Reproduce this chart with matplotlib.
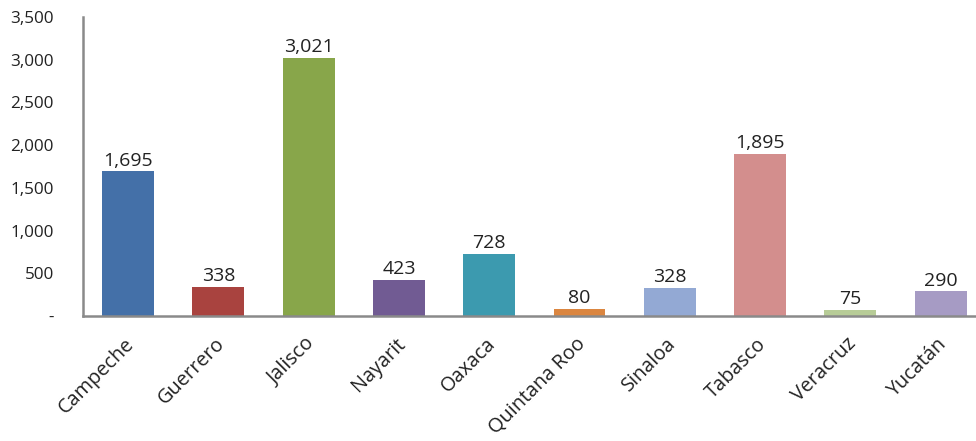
import matplotlib.pyplot as plt
import matplotlib.transforms as mtransforms
from matplotlib.ticker import FuncFormatter

estados = ['Campeche', 'Guerrero', 'Jalisco', 'Nayarit', 'Oaxaca',
           'Quintana Roo', 'Sinaloa', 'Tabasco', 'Veracruz', 'Yucatán']
valores = [1695, 338, 3021, 423, 728, 80, 328, 1895, 75, 290]
colores = ['#4470A8', '#A9433F', '#88A64A', '#715B93', '#3C9AAF',
           '#DB8640', '#93A9D4', '#D38E8D', '#B7CC97', '#A69BC4']

plt.rcParams['font.family'] = ['Open Sans', 'DejaVu Sans']

fig = plt.figure(figsize=(9.76, 4.41), dpi=100)
ax = fig.add_axes([0.085, 0.2834, 0.925, 0.678])

x = range(len(estados))
bars = ax.bar(x, valores, width=0.575, color=colores)

for b, v in zip(bars, valores):
    ax.text(b.get_x() + b.get_width() / 2, v + 20, f'{v:,}',
            ha='center', va='bottom', fontsize=14, color='#222222')

ax.set_xlim(-0.5, len(estados) - 0.5)
ax.set_ylim(0, 3500)
ax.set_yticks(range(0, 3501, 500))
ax.yaxis.set_major_formatter(FuncFormatter(lambda v, p: '-' if v == 0 else f'{int(v):,}'))
ax.set_xticks(list(x))
ax.set_xticklabels(estados, rotation=45, ha='right', rotation_mode='anchor')

ax.tick_params(axis='both', length=0, colors='#222222')
ax.tick_params(axis='y', pad=21, labelsize=12.3)
ax.tick_params(axis='x', pad=13, labelsize=14.3)
# desplazar un poco las etiquetas a la izquierda
off = mtransforms.ScaledTranslation(-4 / 100, 0, fig.dpi_scale_trans)
for lbl in ax.get_xticklabels():
    lbl.set_transform(lbl.get_transform() + off)

for s in ['top', 'right']:
    ax.spines[s].set_visible(False)
for s in ['left', 'bottom']:
    ax.spines[s].set_color('#8a8a8a')
    ax.spines[s].set_linewidth(1.8)

plt.savefig('out.png', dpi=100)
